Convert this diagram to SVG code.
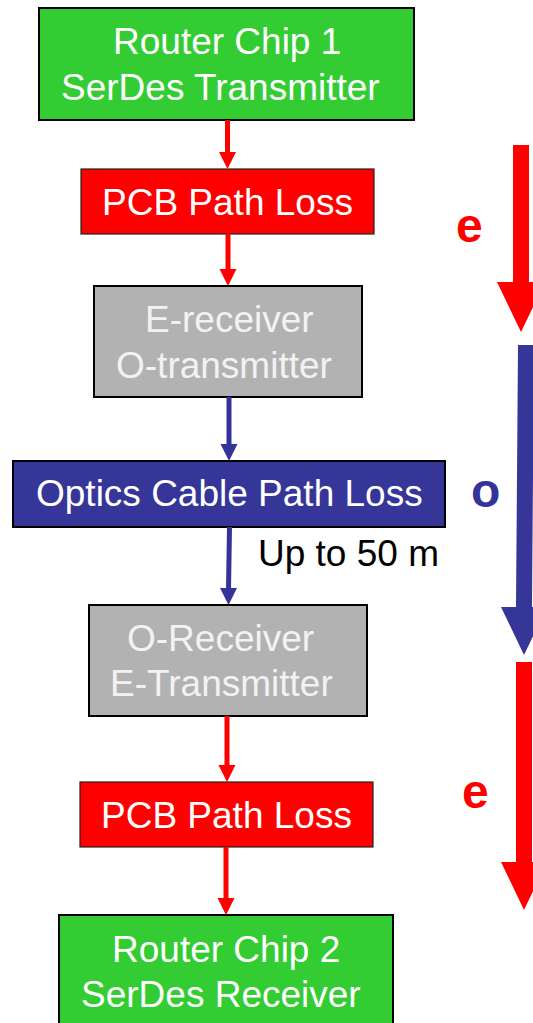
<svg xmlns="http://www.w3.org/2000/svg" width="533" height="1023" viewBox="0 0 533 1023">
<style>
.t{font-family:"Liberation Sans",Arial,sans-serif;font-size:37px;fill:#ffffff}
.g{fill:#f2f2f2}
.k{fill:#000000}
.lbl{font-family:"Liberation Sans",Arial,sans-serif;font-size:48px;font-weight:bold}
.box{stroke:#000;stroke-width:2}
.thin{stroke:#222;stroke-width:1.2}
.cr{stroke:#ff0000;stroke-width:5;fill:none}
.cb{stroke:#333399;stroke-width:5;fill:none}
</style>
<rect width="533" height="1023" fill="#ffffff"/>
<g id="router1">
<rect class="box" x="39" y="8" width="375" height="112" fill="#33cc33"/>
<text class="t" x="113" y="54">Router Chip 1</text>
<text class="t" x="61" y="100">SerDes Transmitter</text>
</g>
<g id="pcb1">
<rect class="thin" x="81" y="169" width="293" height="65" fill="#ff0000"/>
<text class="t" x="102" y="215">PCB Path Loss</text>
</g>
<g id="eo">
<rect class="box" x="94" y="286" width="268" height="111" fill="#b2b2b2"/>
<text class="t g" x="145" y="332">E-receiver</text>
<text class="t g" x="116" y="378">O-transmitter</text>
</g>
<g id="optics">
<rect class="box" x="13" y="461" width="432" height="66" fill="#363698"/>
<text class="t" x="36" y="506">Optics Cable Path Loss</text>
</g>
<g id="oe">
<rect class="box" x="89" y="605" width="278" height="111" fill="#b2b2b2"/>
<text class="t g" x="127" y="651">O-Receiver</text>
<text class="t g" x="110" y="696">E-Transmitter</text>
</g>
<g id="pcb2">
<rect class="thin" x="80" y="782" width="293" height="65" fill="#ff0000"/>
<text class="t" x="101" y="828">PCB Path Loss</text>
</g>
<g id="router2">
<rect class="box" x="59" y="915" width="334" height="115" fill="#33cc33"/>
<text class="t" x="112" y="962">Router Chip 2</text>
<text class="t" x="81" y="1007">SerDes Receiver</text>
</g>
<g id="connectors">
<line class="cr" x1="227.5" y1="120" x2="227.5" y2="153"/>
<polygon points="219,152 236,152 227.5,169" fill="#ff0000"/>
<line class="cr" x1="228" y1="234" x2="228" y2="270"/>
<polygon points="219.5,269 236.5,269 228,286" fill="#ff0000"/>
<line class="cb" x1="229" y1="397" x2="229" y2="445"/>
<polygon points="220.5,444 237.5,444 229,461" fill="#333399"/>
<line class="cb" x1="229.5" y1="527" x2="228.5" y2="589"/>
<polygon points="220,588 237,588 228.5,605" fill="#333399"/>
<line class="cr" x1="227" y1="716" x2="227" y2="766"/>
<polygon points="218.5,765 235.5,765 227,782" fill="#ff0000"/>
<line class="cr" x1="226" y1="847" x2="226" y2="899"/>
<polygon points="217.5,898 234.5,898 226,915" fill="#ff0000"/>
</g>
<g id="domain-arrows">
<polygon points="513,145 529,145 529,282 545,282 521,332 497,282 513,282" fill="#ff0000"/>
<polygon points="518,345 534,345 532,607 547,607 524,655 501,607 516,607" fill="#363698"/>
<polygon points="516,662 532,662 532,862 547,862 524,910 501,862 516,862" fill="#ff0000"/>
<text class="lbl" x="456" y="242" fill="#ff0000">e</text>
<text class="lbl" x="471" y="507" fill="#333399">o</text>
<text class="lbl" x="462" y="808" fill="#ff0000">e</text>
</g>
<text class="t k" x="258" y="566">Up to 50 m</text>
</svg>
